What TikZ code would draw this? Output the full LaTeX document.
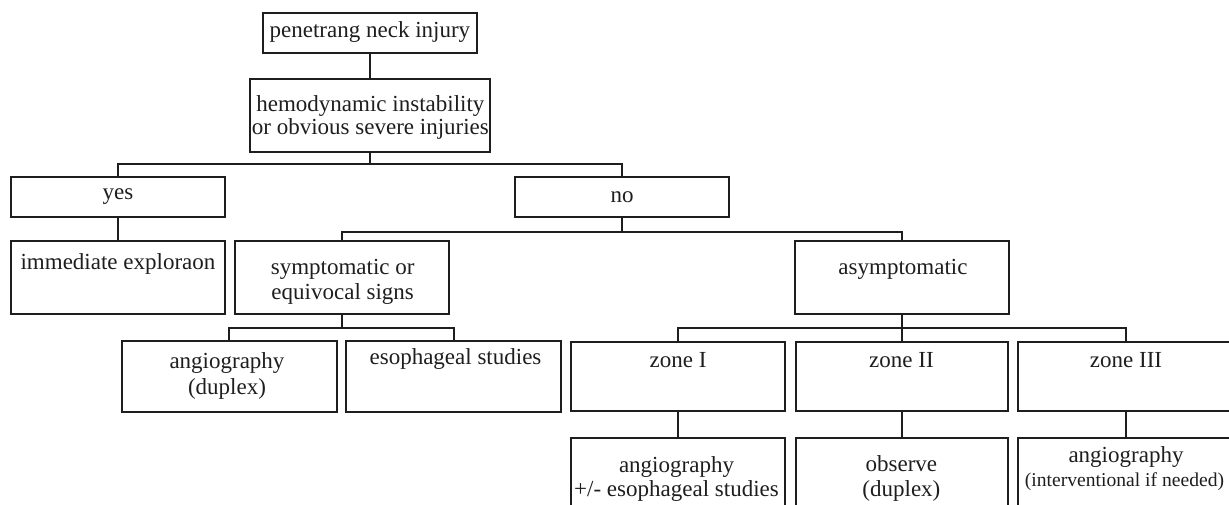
\documentclass[tikz,border=0pt]{standalone}
\usepackage{fontspec}
\setmainfont{Liberation Serif}
\usetikzlibrary{calc}
\definecolor{ink}{RGB}{30,30,30}
\begin{document}
\begin{tikzpicture}[x=1pt,y=-1pt,
 box/.style={draw=ink, line width=2pt, inner sep=0pt, minimum width=214.5pt},
 wire/.style={draw=ink, line width=2pt},
 txt/.style={anchor=base, inner sep=0pt, text=ink, font=\fontsize{23}{28}\selectfont},
 small/.style={txt, font=\fontsize{19.6}{24}\selectfont}]
\useasboundingbox (0,0) rectangle (1229,505);
\clip (0,0) rectangle (1229,505);

% boxes
\node[box, minimum height=40.3pt] (b1) at (370,32.9) {};
\node[box, minimum width=240.7pt, minimum height=73.3pt] (b2) at (370,115.4) {};
\node[box, minimum height=40pt] (yes) at (118,196.7) {};
\node[box, minimum height=40.5pt] (no) at (622,196.8) {};
\node[box, minimum height=73.3pt] (imm) at (118,277.4) {};
\node[box, minimum height=73.3pt] (sym) at (342,277.4) {};
\node[box, minimum width=213.3pt, minimum height=73.3pt] (asym) at (902,277.7) {};
\node[box, minimum height=70.2pt] (ang) at (229.4,376.4) {};
\node[box, minimum height=70.2pt] (eso) at (453.5,376.4) {};
\node[box, minimum height=69.5pt] (z1) at (678,376.3) {};
\node[box, minimum width=212.7pt, minimum height=69.5pt] (z2) at (902,376.3) {};
\node[box, minimum width=215.4pt, minimum height=69.5pt] (z3) at (1126,376.3) {};
\node[box, minimum height=70.3pt] (z1b) at (678,472.9) {};
\node[box, minimum width=212.7pt, minimum height=70.3pt] (z2b) at (902,472.9) {};
\node[box, minimum width=215.4pt, minimum height=70.3pt] (z3b) at (1126,472.9) {};

% texts
\node[txt] (t1) at (369.9,37.3) {penetrang neck injury};
\node[txt] (t2a) at (370.4,111.7) {hemodynamic instability};
\node[txt] (t2b) at (370.4,135) {or obvious severe injuries};
\node[txt] (tyes) at (118,200) {yes};
\node[txt] (tno) at (622,203) {no};
\node[txt] (timm) at (118,269.3) {immediate exploraon};
\node[txt] (tsyma) at (342.7,274) {symptomatic or};
\node[txt] (tsymb) at (342.7,299) {equivocal signs};
\node[txt] (tasym) at (903,274.7) {asymptomatic};
\node[txt] (tanga) at (227,368.7) {angiography};
\node[txt] (tangb) at (227,394) {(duplex)};
\node[txt] (teso) at (455.5,364.5) {esophageal studies};
\node[txt] (tz1) at (678,367) {zone I};
\node[txt] (tz2) at (901.4,367) {zone II};
\node[txt] (tz3) at (1126,367) {zone III};
\node[txt] (tz1ba) at (676.5,472) {angiography};
\node[txt] (tz1bb) at (676.5,496) {+/- esophageal studies};
\node[txt] (tz2ba) at (901.4,471.5) {observe};
\node[txt] (tz2bb) at (901.4,496) {(duplex)};
\node[txt] (tz3ba) at (1126,462) {angiography};
\node[small] (tz3bb) at (1124.5,486.5) {(interventional if needed)};

% connectors
\coordinate (f1) at ($(b2.south)+(0,10.7)$);
\coordinate (f2) at ($(no.south)+(0,13.5)$);
\coordinate (f3) at ($(sym.south)+(0,13.3)$);
\coordinate (f4) at ($(asym.south)+(0,13)$);
\draw[wire] (b1.south) -- (b2.north);
\draw[wire] (b2.south) -- (f1);
\draw[wire] (f1) -| (yes.north);
\draw[wire] (f1) -| (no.north);
\draw[wire] (yes.south) -- (imm.north);
\draw[wire] (no.south) -- (f2);
\draw[wire] (f2) -| (sym.north);
\draw[wire] (f2) -| (asym.north);
\draw[wire] (sym.south) -- (f3);
\draw[wire] (f3) -| (ang.north);
\draw[wire] (f3) -| (eso.north);
\draw[wire] (asym.south) -- (f4);
\draw[wire] (f4) -| (z1.north);
\draw[wire] (f4) -| (z2.north);
\draw[wire] (f4) -| (z3.north);
\draw[wire] (z1.south) -- (z1b.north);
\draw[wire] (z2.south) -- (z2b.north);
\draw[wire] (z3.south) -- (z3b.north);
\end{tikzpicture}
\end{document}
